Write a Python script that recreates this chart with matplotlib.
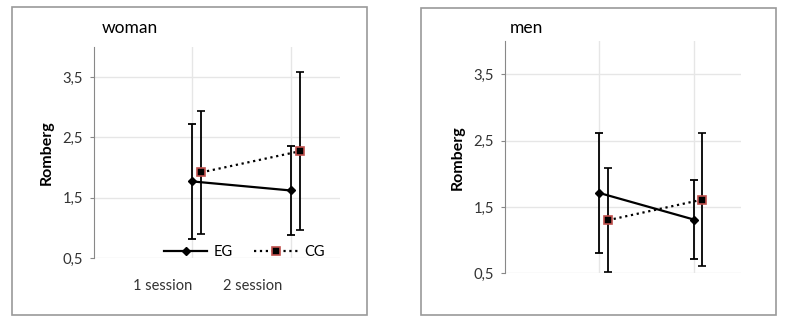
import matplotlib.pyplot as plt
from matplotlib.patches import Rectangle
from matplotlib.lines import Line2D

plt.rcParams['font.family'] = ['Lato', 'DejaVu Sans']

sessions = ["1 session", "2 session"]
yticks = [0.5, 1.5, 2.5, 3.5]
ytick_labels = ["0,5", "1,5", "2,5", "3,5"]

# woman
woman_eg = [1.77, 1.62]
woman_eg_err = [0.95, 0.74]
woman_cg = [1.92, 2.27]
woman_cg_err = [1.02, 1.31]

# men
men_eg = [1.71, 1.31]
men_eg_err = [0.91, 0.60]
men_cg = [1.30, 1.61]
men_cg_err = [0.78, 1.00]

x_eg = [1, 2]
x_cg = [1.09, 2.09]
red = "#c0504d"

fig = plt.figure(figsize=(7.86, 3.24), dpi=100)

# grey frames round each chart
fig.patches.append(Rectangle((12/786, 1-315/324), 355/786, 308/324, transform=fig.transFigure,
                             fill=False, edgecolor="#9a9a9a", lw=1.2))
fig.patches.append(Rectangle((421/786, 1-315/324), 355/786, 307/324, transform=fig.transFigure,
                             fill=False, edgecolor="#9a9a9a", lw=1.2))


def draw(ax, eg, eg_err, cg, cg_err):
    ax.errorbar(x_eg, eg, yerr=eg_err, color="black", lw=1.6, capsize=3, elinewidth=1.3,
                capthick=1.3, marker="D", markersize=4.5, zorder=3)
    ax.errorbar(x_cg, cg, yerr=cg_err, color="black", lw=1.6, ls=":", capsize=3, elinewidth=1.3,
                capthick=1.3, marker="s", markersize=6, markerfacecolor="black",
                markeredgecolor=red, markeredgewidth=1.2, zorder=3)
    ax.set_xlim(0, 2.5)
    ax.set_ylim(0.5, 4.0)
    ax.set_yticks(yticks)
    ax.set_yticklabels(ytick_labels, fontsize=10.7, color="#333333")
    ax.yaxis.grid(True, color="#e6e6e6", lw=1)
    for xv in x_eg:
        ax.axvline(xv, color="#e6e6e6", lw=1, zorder=0)
    for s in ["top", "right", "bottom"]:
        ax.spines[s].set_visible(False)
    ax.spines["left"].set_color("#888888")
    ax.tick_params(axis="y", length=3, color="#888888", pad=5)
    ax.set_ylabel("Romberg", fontsize=11.5, fontweight="bold", labelpad=6)
    ax.set_axisbelow(True)


ax1 = fig.add_axes([94/786, 1-258/324, 246/786, 211/324])
draw(ax1, woman_eg, woman_eg_err, woman_cg, woman_cg_err)
ax1.set_xticks([0.70, 1.61])
ax1.set_xticklabels(sessions, fontsize=10.5, color="#333333")
ax1.tick_params(axis="x", length=0, pad=15)
ax1.text(0.03, 1.05, "woman", transform=ax1.transAxes, fontsize=12.5, va="bottom")
handles = [Line2D([], [], color="black", lw=1.6, marker="D", markersize=4.5),
           Line2D([], [], color="black", lw=1.6, ls=":", marker="s", markersize=6,
                  markerfacecolor="black", markeredgecolor=red, markeredgewidth=1.2)]
ax1.legend(handles, ["EG", "CG"], loc="center", bbox_to_anchor=(0.61, 0.03), ncol=2,
           frameon=False, fontsize=10.5, handlelength=3.0, columnspacing=1.5, handletextpad=0.4)

ax2 = fig.add_axes([505/786, 1-273.3/324, 236/786, 232.3/324])
draw(ax2, men_eg, men_eg_err, men_cg, men_cg_err)
ax2.set_xticks([])
ax2.text(0.02, 1.02, "men", transform=ax2.transAxes, fontsize=12.5, va="bottom")

fig.savefig("out.png", dpi=100)
